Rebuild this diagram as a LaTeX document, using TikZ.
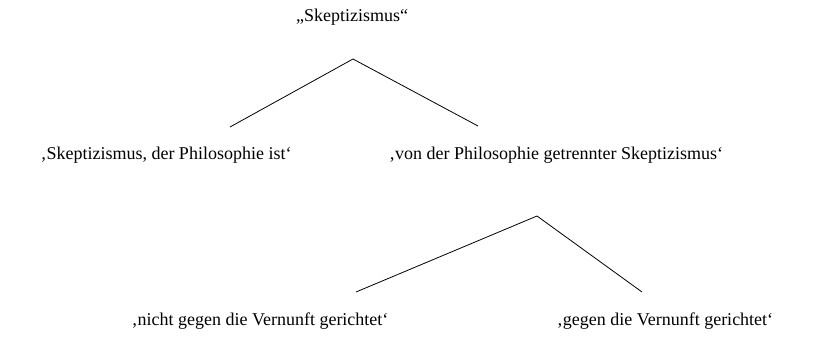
\documentclass[tikz,border=0pt]{standalone}
\usepackage{fontspec}
\setmainfont{Liberation Serif}
\begin{document}
\begin{tikzpicture}[x=1pt,y=-1pt,
  lbl/.style={inner sep=0pt,anchor=base,font=\fontsize{18}{21}\selectfont},
  br/.style={line width=0.8pt}]
\useasboundingbox (0,0) rectangle (814,340);
\node[lbl] (top) at (352,21) {„Skeptizismus“};
\node[lbl] (l1) at (166,159) {‚Skeptizismus, der Philosophie ist‘};
\node[lbl] (r1) at (556,159) {‚von der Philosophie getrennter Skeptizismus‘};
\node[lbl] (l2) at (260,325) {‚nicht gegen die Vernunft gerichtet‘};
\node[lbl] (r2) at (665,325) {‚gegen die Vernunft gerichtet‘};
\coordinate (a1) at (353,59);
\coordinate (a1l) at (230,127);
\coordinate (a1r) at (478,126);
\coordinate (a2) at (537,216);
\coordinate (a2l) at (356,292);
\coordinate (a2r) at (642,292);
\draw[br] (a1l) -- (a1) -- (a1r);
\draw[br] (a2l) -- (a2) -- (a2r);
\end{tikzpicture}
\end{document}
